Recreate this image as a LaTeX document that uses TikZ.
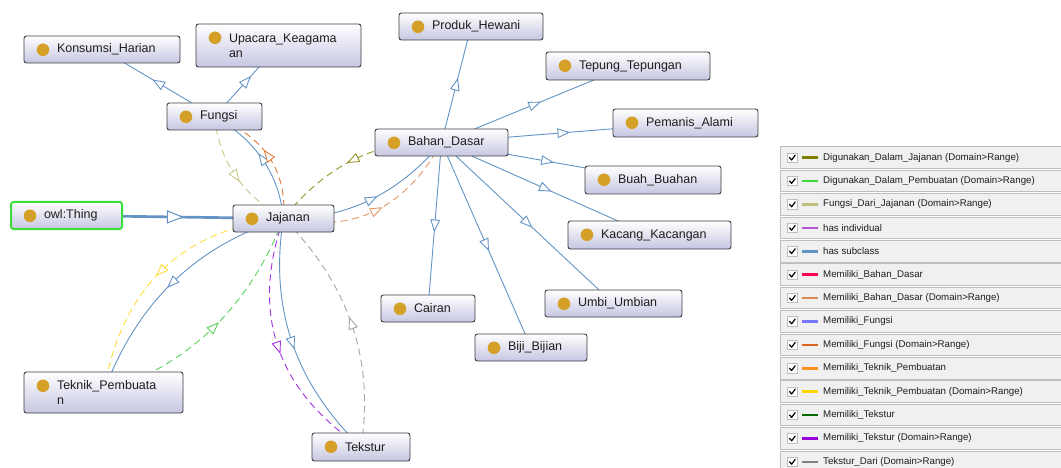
\documentclass[tikz,border=0pt]{standalone}
\usepackage{fontspec}
\setmainfont{Liberation Sans}
\usetikzlibrary{decorations.markings}
\definecolor{subblue}{RGB}{100,148,198}
\definecolor{nodeborder}{RGB}{60,60,64}
\definecolor{nodebot}{RGB}{198,198,226}
\definecolor{gold}{RGB}{212,160,40}
\definecolor{textdark}{RGB}{30,30,30}
\definecolor{thinggreen}{RGB}{60,222,60}
\definecolor{cOlive}{RGB}{128,128,0}
\definecolor{cGreen}{RGB}{64,216,64}
\definecolor{cKhaki}{RGB}{190,190,125}
\definecolor{cIndiv}{RGB}{185,85,210}
\definecolor{cSub}{RGB}{96,146,196}
\definecolor{cRed}{RGB}{250,0,80}
\definecolor{cTan}{RGB}{218,140,80}
\definecolor{cPeri}{RGB}{118,118,255}
\definecolor{cDOrange}{RGB}{220,100,30}
\definecolor{cOrange}{RGB}{255,145,30}
\definecolor{cYellow}{RGB}{255,214,0}
\definecolor{cDGreen}{RGB}{0,105,0}
\definecolor{cPurple}{RGB}{150,0,220}
\definecolor{cGray}{RGB}{128,128,128}
\definecolor{eOlive}{RGB}{150,150,40}
\definecolor{eGreen}{RGB}{90,210,90}
\definecolor{eKhaki}{RGB}{200,200,140}
\definecolor{eTan}{RGB}{228,150,100}
\definecolor{eDOrange}{RGB}{225,120,60}
\definecolor{eYellow}{RGB}{255,220,60}
\definecolor{ePurple}{RGB}{165,50,225}
\definecolor{eGray}{RGB}{165,165,165}
\definecolor{legfill}{RGB}{240,240,240}
\definecolor{legline}{RGB}{190,190,190}
\pgfdeclarelayer{bg}
\pgfdeclarelayer{edges}
\pgfsetlayers{bg,edges,main}
\tikzset{
  cls/.style={draw=nodeborder, line width=0.9pt, rounded corners=2.5pt,
    top color=white, bottom color=nodebot, inner xsep=7pt, inner ysep=0pt,
    align=left, text=textdark, font=\fontsize{12.5}{15}\selectfont,
    path picture={\fill[gold] ([xshift=19pt,yshift=-13.8pt]path picture bounding box.north west) circle (6.3pt);}},
  thingcls/.style={cls, draw=thinggreen, line width=2pt},
  edge/.style={draw=#1, line width=0.9pt, postaction={decorate},
    decoration={markings, mark=at position 0.5 with {\draw[#1, solid, fill=white, line width=0.9pt] (-5.5pt,-4.3pt) -- (5.5pt,0pt) -- (-5.5pt,4.3pt) -- cycle;}}},
  dedge/.style={edge=#1, dash pattern=on 7pt off 4.5pt},
  legrow/.style={draw=legline, fill=legfill, line width=0.8pt},
  legtext/.style={anchor=west, inner sep=0pt, text=textdark, font=\fontsize{9.7}{12}\selectfont},
}
\begin{document}
\begin{tikzpicture}[x=1pt, y=-1pt]
\useasboundingbox (0,0) rectangle (1061,468);
\clip (0,0) rectangle (1061,468);
\begin{pgfonlayer}{bg}
\fill[white] (0,0) rectangle (1061,468);
\end{pgfonlayer}

% ---- nodes ----
\node[cls, minimum height=27pt, text width=142pt] (konsumsi) at (102,49.5) {\hspace*{26pt}Konsumsi\_Harian};
\node[cls, minimum height=43pt, text width=151pt] (upacara) at (278.5,45.5) {\hspace*{26pt}Upacara\_Keagama\\\hspace*{26pt}an};
\node[cls, minimum height=27pt, text width=81pt] (fungsi) at (214.5,116.5) {\hspace*{26pt}Fungsi};
\node[thingcls, minimum height=27pt, text width=97pt] (thing) at (66.5,215.5) {\hspace*{26pt}owl:Thing};
\node[cls, minimum height=27pt, text width=87pt] (jajanan) at (283.5,218.5) {\hspace*{26pt}Jajanan};
\node[cls, minimum height=27pt, text width=119pt] (bahan) at (441.5,142.5) {\hspace*{26pt}Bahan\_Dasar};
\node[cls, minimum height=27pt, text width=130pt] (produk) at (471,26.5) {\hspace*{26pt}Produk\_Hewani};
\node[cls, minimum height=28pt, text width=150pt] (tepung) at (628,66) {\hspace*{26pt}Tepung\_Tepungan};
\node[cls, minimum height=28pt, text width=131pt] (pemanis) at (685.5,123) {\hspace*{26pt}Pemanis\_Alami};
\node[cls, minimum height=28pt, text width=122pt] (buah) at (653,180) {\hspace*{26pt}Buah\_Buahan};
\node[cls, minimum height=28pt, text width=149pt] (kacang) at (649.5,235) {\hspace*{26pt}Kacang\_Kacangan};
\node[cls, minimum height=27pt, text width=80pt] (cairan) at (428,308.5) {\hspace*{26pt}Cairan};
\node[cls, minimum height=27pt, text width=123pt] (umbi) at (613.5,303.5) {\hspace*{26pt}Umbi\_Umbian};
\node[cls, minimum height=27pt, text width=98pt] (biji) at (531,347.5) {\hspace*{26pt}Biji\_Bijian};
\node[cls, minimum height=41pt, text width=145pt] (teknik) at (103.5,392.5) {\hspace*{26pt}Teknik\_Pembuata\\\hspace*{26pt}n};
\node[cls, minimum height=28pt, text width=84pt] (tekstur) at (361,447) {\hspace*{26pt}Tekstur};

% ---- connectors ----
\begin{pgfonlayer}{edges}
\draw[edge=subblue] (fungsi.center) -- (konsumsi.center);
\draw[edge=subblue] (fungsi.center) -- (upacara.center);
\draw[draw=subblue, line width=2.7pt, postaction={decorate},
  decoration={markings, mark=at position 0.5 with {\draw[subblue, fill=white, line width=1pt] (-7.5pt,-6pt) -- (7.5pt,0pt) -- (-7.5pt,6pt) -- cycle;}}]
  (thing.center) -- (jajanan.center);
\draw[edge=subblue] (bahan.center) -- (produk.center);
\draw[edge=subblue] (bahan.center) -- (tepung.center);
\draw[edge=subblue] (bahan.center) -- (pemanis.center);
\draw[edge=subblue] (bahan.center) -- (buah.center);
\draw[edge=subblue] (bahan.center) -- (kacang.center);
\draw[edge=subblue] (bahan.center) -- (cairan.center);
\draw[edge=subblue] (bahan.center) -- (biji.center);
\draw[edge=subblue] (bahan.center) -- (umbi.center);
% Jajanan - Fungsi
\draw[edge=subblue] (jajanan.center) .. controls (279.2,174.5) and (256.2,140.5) .. (fungsi.center);
\draw[dedge=eDOrange] (jajanan.center) .. controls (287.2,170.5) and (264.2,136.5) .. (fungsi.center);
\draw[dedge=eKhaki] (fungsi.center) .. controls (218.8,160.5) and (241.8,194.5) .. (jajanan.center);
% Jajanan - Bahan_Dasar
\draw[dedge=eOlive] (bahan.center) .. controls (378.8,139.2) and (326.2,164.5) .. (jajanan.center);
\draw[edge=subblue] (jajanan.center) .. controls (346.2,219.2) and (398.8,193.8) .. (bahan.center);
\draw[dedge=eTan] (jajanan.center) .. controls (352.8,233.8) and (405.5,208.5) .. (bahan.center);
% Jajanan - Teknik_Pembuatan
\draw[edge=subblue] (jajanan.center) .. controls (196.2,245.2) and (136.2,303.2) .. (teknik.center);
\draw[dedge=eYellow] (jajanan.center) .. controls (181.5,229.2) and (121.5,287.2) .. (teknik.center);
\draw[dedge=eGreen] (teknik.center) .. controls (189.5,364.5) and (249.5,306.5) .. (jajanan.center);
% Jajanan - Tekstur
\draw[dedge=ePurple] (jajanan.center) .. controls (250.3,313.7) and (276.2,389.8) .. (tekstur.center);
\draw[edge=subblue] (jajanan.center) .. controls (269,307) and (294.8,383.2) .. (tekstur.center);
\draw[dedge=eGray] (tekstur.center) .. controls (374.8,360.5) and (349,284.3) .. (jajanan.center);
\end{pgfonlayer}

% ---- legend ----
\foreach \col/\txt [count=\i from 0] in {
  cOlive/{Digunakan\_Dalam\_Jajanan (Domain>Range)},
  cGreen/{Digunakan\_Dalam\_Pembuatan (Domain>Range)},
  cKhaki/{Fungsi\_Dari\_Jajanan (Domain>Range)},
  cIndiv/{has individual},
  cSub/{has subclass},
  cRed/{Memiliki\_Bahan\_Dasar},
  cTan/{Memiliki\_Bahan\_Dasar (Domain>Range)},
  cPeri/{Memiliki\_Fungsi},
  cDOrange/{Memiliki\_Fungsi (Domain>Range)},
  cOrange/{Memiliki\_Teknik\_Pembuatan},
  cYellow/{Memiliki\_Teknik\_Pembuatan (Domain>Range)},
  cDGreen/{Memiliki\_Tekstur},
  cPurple/{Memiliki\_Tekstur (Domain>Range)},
  cGray/{Tekstur\_Dari (Domain>Range)}} {
  \pgfmathsetmacro{\ty}{146.8+23.4*\i}
  \pgfmathsetmacro{\cy}{\ty+10.8}
  \draw[legrow] (780,\ty) rectangle (1075,\ty+21.6);
  \draw[draw=legline, fill=white, line width=0.6pt] (787.5,\cy-4.7) rectangle (797,\cy+4.7);
  \draw[line width=1.2pt, line cap=round, line join=round] (789.6,\cy) -- (791.6,\cy+2.4) -- (795.2,\cy-2.4);
  \draw[\col, line width=2.6pt] (802,\cy) -- (818,\cy);
  \node[legtext] (leg\i) at (823,\cy) {\txt};
}
\end{tikzpicture}
\end{document}
